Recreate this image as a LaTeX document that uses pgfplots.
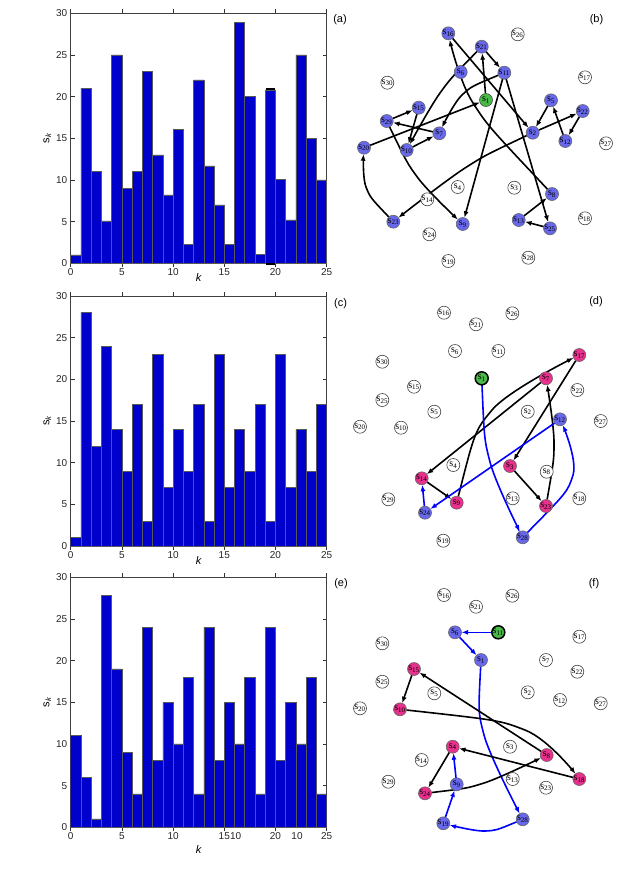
\documentclass[border=0pt]{standalone}
\usepackage{pgfplots}
\pgfplotsset{compat=1.18}
\usetikzlibrary{arrows.meta}
\usepackage{fontspec}
\setmainfont{Liberation Sans}
\newfontfamily\nodeserif{Liberation Serif}

\definecolor{barblue}{RGB}{0,0,205}
\definecolor{nodeblue}{RGB}{104,104,236}
\definecolor{nodegreen}{RGB}{72,186,72}
\definecolor{nodepink}{RGB}{232,48,140}

\protected\def\sn#1{s\textsubscript{#1}}

\pgfplotsset{
  barax/.style={
    scale only axis, width=256pt, height=250pt,
    xmin=0, xmax=25, ymin=0, ymax=30,
    xtick={0,5,...,25}, ytick={0,5,...,30},
    tick align=inside, major tick length=4pt,
    tick style={black!80, line width=0.5pt},
    axis line style={black!75, line width=0.6pt},
    ticklabel style={font=\fontsize{10}{10}\selectfont, text=black!85},
    xticklabel style={yshift=2pt},
    /pgf/number format/assume math mode=true,
    xlabel={\itshape k}, ylabel={s\textsubscript{\itshape k}},
    label style={font=\fontsize{11}{11}\selectfont},
    xlabel style={yshift=9pt}, ylabel style={yshift=-2pt},
    ybar, bar width=1, bar shift=0pt,
    anchor=south west,
  },
  bars/.style={fill=barblue, draw=black!65, line width=0.6pt},
  darr/.style={black, line width=1.6pt, -{Latex[length=6.5pt,width=5pt]},
    shorten >=6.5pt, shorten <=6.5pt},
  barr/.style={darr, blue},
  gnode/.style={only marks, mark=*, mark size=6.5pt,
    nodes near coords, point meta=explicit symbolic,
    nodes near coords align={anchor=center},
    every node near coord/.append style={inner sep=0pt,
      font=\nodeserif\fontsize{10}{10}\selectfont}},
  wnode/.style={gnode, mark options={fill=white, draw=black!75, line width=0.6pt}},
  bnode/.style={gnode, mark options={fill=nodeblue, draw=black!60, line width=0.6pt}},
  pnode/.style={gnode, mark options={fill=nodepink, draw=black!60, line width=0.6pt}},
  qnode/.style={gnode, mark options={fill=nodegreen, draw=black!70, line width=0.6pt}},
  qqnode/.style={gnode, mark options={fill=nodegreen, draw=black, line width=1.5pt}},
}

\begin{document}
\begin{tikzpicture}[x=1pt, y=1pt]
\path[use as bounding box] (0,0) rectangle (623,-883);

% (a)
\begin{axis}[barax, at={(70.7pt,-263.3pt)}, clip=false]
\addplot[bars] coordinates {
(0.5,1) (1.5,21) (2.5,11) (3.5,5.1) (4.5,25) (5.5,9) (6.5,11) (7.5,23)
(8.5,13) (9.5,8.2) (10.5,16.1) (11.5,2.3) (12.5,22) (13.5,11.7) (14.5,7)
(15.5,2.3) (16.5,28.9) (17.5,20) (18.5,1.1) (19.5,20.8) (20.5,10.1)
(21.5,5.2) (22.5,25) (23.5,15) (24.5,10)};
\addplot[black, line width=1.6pt, sharp plot] coordinates {(19.05,20.9) (19.95,20.9)};
\addplot[black, line width=1.6pt, sharp plot] coordinates {(19.05,-0.1) (19.95,-0.1)};
\end{axis}

% (c)
\begin{axis}[barax, at={(70.7pt,-546pt)}]
\addplot[bars] coordinates {
(0.5,1) (1.5,28) (2.5,12) (3.5,24) (4.5,14) (5.5,9) (6.5,17) (7.5,3)
(8.5,23) (9.5,7) (10.5,14) (11.5,9) (12.5,17) (13.5,3) (14.5,23)
(15.5,7) (16.5,14) (17.5,9) (18.5,17) (19.5,3) (20.5,23)
(21.5,7) (22.5,14) (23.5,9) (24.5,17)};
\end{axis}

% (e)
\begin{axis}[barax, at={(70.7pt,-827.3pt)},
  extra x ticks={16.1,22.1}, extra x tick labels={10,10},
  extra x tick style={tick style={draw opacity=0}}]
\addplot[bars] coordinates {
(0.5,11) (1.5,6) (2.5,1) (3.5,27.8) (4.5,19) (5.5,9) (6.5,4) (7.5,24)
(8.5,8) (9.5,15) (10.5,10) (11.5,18) (12.5,4) (13.5,24) (14.5,8)
(15.5,15) (16.5,10) (17.5,18) (18.5,4) (19.5,24) (20.5,8)
(21.5,15) (22.5,10) (23.5,18) (24.5,4)};
\end{axis}

% networks (b), (d), (f), in picture pixel coordinates
\begin{axis}[at={(0pt,0pt)}, anchor=north west, scale only axis,
  width=623pt, height=883pt, xmin=0, xmax=623, ymin=0, ymax=883,
  y dir=reverse, hide axis, clip=false]

% ---- (b) edges
\addplot[darr] coordinates {(486,100) (481.7,46.7)};
\addplot[darr] coordinates {(481.7,46.7) (504.3,72.7)};
\addplot[darr] coordinates {(448.3,33.3) (532.7,132.7)};
\addplot[darr, smooth] coordinates {(481.7,46.7) (440,93) (406.7,150)};
\addplot[darr, smooth] coordinates {(504.3,72.7) (462,95) (439.3,133.3)};
\addplot[darr] coordinates {(504.3,72.7) (462.7,224)};
\addplot[darr] coordinates {(504.3,72.7) (550,228.3)};
\addplot[darr, smooth] coordinates {(552,194) (473,103) (448.3,33.3)};
\addplot[darr] coordinates {(518.7,220) (552,194)};
\addplot[darr] coordinates {(550,228.3) (518.7,220)};
\addplot[darr] coordinates {(551,100.3) (532.7,132.7)};
\addplot[darr] coordinates {(565.3,141) (551,100.3)};
\addplot[darr] coordinates {(582.7,111) (565.3,141)};
\addplot[darr] coordinates {(532.7,132.7) (582.7,111)};
\addplot[darr, smooth] coordinates {(532.7,132.7) (465,168) (393.3,221.7)};
\addplot[darr, smooth] coordinates {(393.3,221.7) (366,187) (364,147.7)};
\addplot[darr] coordinates {(364,147.7) (486,100)};
\addplot[darr] coordinates {(386.7,121) (418.7,107.7)};
\addplot[darr] coordinates {(418.7,107.7) (406.7,150)};
\addplot[darr] coordinates {(406.7,150) (439.3,133.3)};
\addplot[darr] coordinates {(439.3,133.3) (386.7,121)};
\addplot[darr, smooth] coordinates {(386.7,121) (418,178) (462.7,224)};

% ---- (b) nodes
\addplot[wnode] coordinates {
(517.7,34.3) [\sn{26}] (585,77.3) [\sn{17}] (387.3,82.7) [\sn{30}]
(606,143.3) [\sn{27}] (457.7,187) [\sn{4}] (514.3,187.7) [\sn{3}]
(427.3,199.3) [\sn{14}] (585,218.3) [\sn{18}] (429.3,234.3) [\sn{24}]
(448.3,261) [\sn{19}] (528.3,257.7) [\sn{28}]};
\addplot[bnode] coordinates {
(448.3,33.3) [\sn{16}] (481.7,46.7) [\sn{21}] (504.3,72.7) [\sn{11}]
(460.7,72) [\sn{6}] (551,100.3) [\sn{5}] (582.7,111) [\sn{22}]
(418.7,107.7) [\sn{15}] (386.7,121) [\sn{29}] (439.3,133.3) [\sn{7}]
(532.7,132.7) [\sn{2}] (565.3,141) [\sn{12}] (364,147.7) [\sn{20}]
(406.7,150) [\sn{10}] (552,194) [\sn{8}] (393.3,221.7) [\sn{23}]
(462.7,224) [\sn{9}] (518.7,220) [\sn{13}] (550,228.3) [\sn{25}]};
\addplot[qnode] coordinates {(486,100) [\sn{1}]};

% ---- (d) edges
\addplot[darr] coordinates {(421.7,478.3) (456.7,502.7)};
\addplot[darr, smooth] coordinates {(456.7,502.7) (492,410) (579.3,355)};
\addplot[darr] coordinates {(579.3,355) (510,466)};
\addplot[darr] coordinates {(510,466) (546,506)};
\addplot[darr, smooth] coordinates {(546,506) (554,442) (546,378.3)};
\addplot[darr] coordinates {(546,378.3) (421.7,478.3)};
\addplot[barr, smooth] coordinates {(481.7,378.3) (490,462) (522.7,537.3)};
\addplot[barr, smooth] coordinates {(522.7,537.3) (573,475) (560,419.3)};
\addplot[barr] coordinates {(560,419.3) (425,512.7)};
\addplot[barr] coordinates {(425,512.7) (421.7,478.3)};

% ---- (d) nodes
\addplot[wnode] coordinates {
(444,312.7) [\sn{16}] (512.3,313.3) [\sn{26}] (476,324.3) [\sn{21}]
(455,351) [\sn{6}] (498.3,351) [\sn{11}] (382.3,361.7) [\sn{30}]
(414,386.7) [\sn{15}] (382.3,400) [\sn{25}] (434.3,411.7) [\sn{5}]
(360,426.7) [\sn{20}] (401,427.7) [\sn{10}] (527.7,411.7) [\sn{2}]
(577.3,390) [\sn{22}] (600.7,421) [\sn{27}] (453.3,465) [\sn{4}]
(546.7,471.7) [\sn{8}] (512.7,498.3) [\sn{13}] (579.3,498.3) [\sn{18}]
(388.3,499.3) [\sn{29}] (443.3,540.7) [\sn{19}]};
\addplot[pnode] coordinates {
(579.3,355) [\sn{17}] (546,378.3) [\sn{7}] (510,466) [\sn{3}]
(546,506) [\sn{23}] (421.7,478.3) [\sn{14}] (456.7,502.7) [\sn{9}]};
\addplot[bnode] coordinates {
(560,419.3) [\sn{12}] (425,512.7) [\sn{24}] (522.7,537.3) [\sn{28}]};
\addplot[qqnode] coordinates {(481.7,378.3) [\sn{1}]};

% ---- (f) edges
\addplot[barr] coordinates {(498.3,632.3) (455,632.3)};
\addplot[barr] coordinates {(455,632.3) (481,660)};
\addplot[barr, smooth] coordinates {(481,660) (484,735) (522.7,819.3)};
\addplot[barr, smooth] coordinates {(522.7,819.3) (485,831) (443.3,823.3)};
\addplot[barr] coordinates {(443.3,823.3) (456.7,784.3)};
\addplot[barr] coordinates {(456.7,784.3) (452.7,746.7)};
\addplot[darr] coordinates {(452.7,746.7) (425,793.3)};
\addplot[darr, smooth] coordinates {(425,793.3) (484,783) (546.7,755)};
\addplot[darr] coordinates {(546.7,755) (414,669)};
\addplot[darr] coordinates {(414,669) (400,709.3)};
\addplot[darr, smooth] coordinates {(400,709.3) (525,730) (579.3,779)};
\addplot[darr] coordinates {(579.3,779) (452.7,746.7)};

% ---- (f) nodes
\addplot[wnode] coordinates {
(444,595) [\sn{16}] (512.3,595.7) [\sn{26}] (476,606.7) [\sn{21}]
(382.3,643.3) [\sn{30}] (579.3,636.7) [\sn{17}] (546,660) [\sn{7}]
(577.3,671.7) [\sn{22}] (382.3,681.7) [\sn{25}] (434.3,693.3) [\sn{5}]
(527.7,692.3) [\sn{2}] (560,700) [\sn{12}] (600.7,703.3) [\sn{27}]
(360,708.3) [\sn{20}] (510,746.7) [\sn{3}] (421.7,760) [\sn{14}]
(388.3,781.7) [\sn{29}] (512.7,779) [\sn{13}] (546,787.7) [\sn{23}]};
\addplot[bnode] coordinates {
(455,632.3) [\sn{6}] (481,660) [\sn{1}] (456.7,784.3) [\sn{9}]
(443.3,823.3) [\sn{19}] (522.7,819.3) [\sn{28}]};
\addplot[pnode] coordinates {
(414,669) [\sn{15}] (400,709.3) [\sn{10}] (452.7,746.7) [\sn{4}]
(546.7,755) [\sn{8}] (579.3,779) [\sn{18}] (425,793.3) [\sn{24}]};
\addplot[qqnode] coordinates {(498.3,632.3) [\sn{11}]};

% panel labels
\node[font=\fontsize{11}{11}\selectfont] at (axis cs:340,20) {(a)};
\node[font=\fontsize{11}{11}\selectfont] at (axis cs:596.5,20) {(b)};
\node[font=\fontsize{11}{11}\selectfont] at (axis cs:340.5,304) {(c)};
\node[font=\fontsize{11}{11}\selectfont] at (axis cs:596,302) {(d)};
\node[font=\fontsize{11}{11}\selectfont] at (axis cs:341,583.5) {(e)};
\node[font=\fontsize{11}{11}\selectfont] at (axis cs:594,583.5) {(f)};
\end{axis}
\end{tikzpicture}
\end{document}
